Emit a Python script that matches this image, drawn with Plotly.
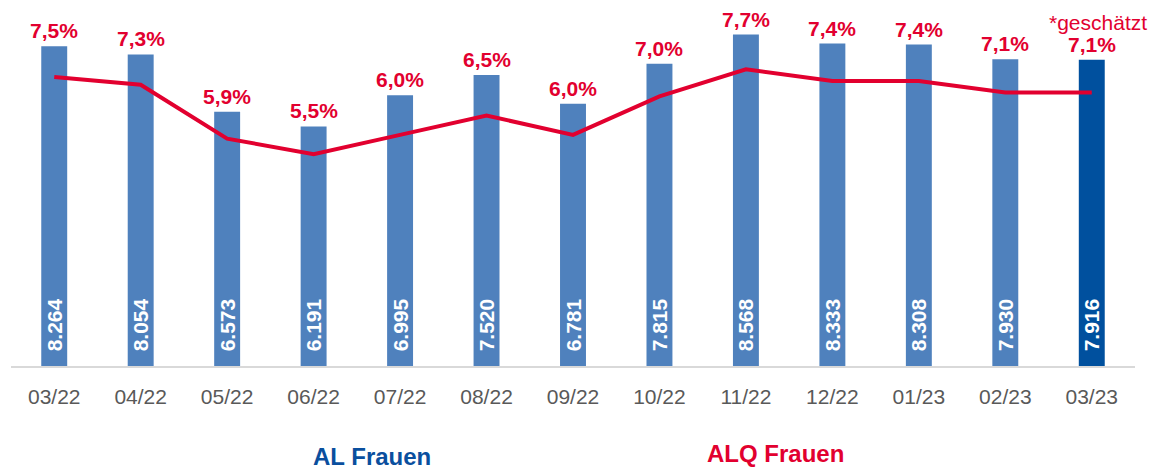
import plotly.graph_objects as go

months = ["03/22", "04/22", "05/22", "06/22", "07/22", "08/22", "09/22",
          "10/22", "11/22", "12/22", "01/23", "02/23", "03/23"]
al_frauen = [8264, 8054, 6573, 6191, 6995, 7520, 6781, 7815, 8568, 8333, 8308, 7930, 7916]
alq_frauen = [7.5, 7.3, 5.9, 5.5, 6.0, 6.5, 6.0, 7.0, 7.7, 7.4, 7.4, 7.1, 7.1]

BAR = "#4F81BD"
BAR_LAST = "#00509E"
RED = "#E2002F"
FONT = "Liberation Sans, Arial, sans-serif"

def de_int(v):
    return f"{v:,}".replace(",", ".")

def de_pct(v):
    return f"{v:.1f}".replace(".", ",") + "%"

colors = [BAR] * (len(months) - 1) + [BAR_LAST]

fig = go.Figure()
fig.add_trace(go.Bar(
    x=months, y=al_frauen, name="AL Frauen",
    marker=dict(color=colors, line=dict(width=0)),
    width=0.3,
    text=["\u00a0\u00a0" + de_int(v) for v in al_frauen],
    textposition="inside", textangle=-90, insidetextanchor="start",
    constraintext="none",
    textfont=dict(family=FONT, size=21, color="white", weight="bold"),
    cliponaxis=False,
))
fig.add_trace(go.Scatter(
    x=months, y=alq_frauen, name="ALQ Frauen", yaxis="y2",
    mode="lines", line=dict(color=RED, width=4),
))

for m, v, r in zip(months, al_frauen, alq_frauen):
    fig.add_annotation(x=m, y=v, xref="x", yref="y", text=de_pct(r),
                       showarrow=False, yanchor="bottom", yshift=2,
                       font=dict(family=FONT, size=21, color=RED, weight="bold"))

fig.add_annotation(x=months[-1], y=al_frauen[-1], xref="x", yref="y",
                   text="*geschätzt", showarrow=False, yanchor="bottom",
                   yshift=24, xshift=6,
                   font=dict(family=FONT, size=21, color=RED))

fig.add_annotation(x=0.3216, y=-0.246, xref="paper", yref="paper", text="AL Frauen",
                   showarrow=False, xanchor="center", yanchor="middle",
                   font=dict(family=FONT, size=24, color="#0A4F9E", weight="bold"))
fig.add_annotation(x=0.6806, y=-0.238, xref="paper", yref="paper", text="ALQ Frauen",
                   showarrow=False, xanchor="center", yanchor="middle",
                   font=dict(family=FONT, size=24, color=RED, weight="bold"))

fig.update_layout(
    width=1151, height=470,
    margin=dict(l=11, r=16, t=0, b=104),
    paper_bgcolor="white", plot_bgcolor="white",
    showlegend=False,
    bargap=0.7,
    xaxis=dict(showline=True, linecolor="#D9D9D9", linewidth=2, showgrid=False,
               range=[-0.5, len(months) - 0.5],
               tickfont=dict(family=FONT, size=21, color="#595959"),
               ticklabelstandoff=11, ticks=""),
    yaxis=dict(range=[0, 9460], visible=False, showgrid=False),
    yaxis2=dict(range=[0, 9.5], visible=False, overlaying="y", side="right",
                showgrid=False),
)

fig.write_html(
    "out.html",
    config={"displayModeBar": False},
    post_script="document.body.style.margin='0';document.body.style.overflow='hidden';",
)
